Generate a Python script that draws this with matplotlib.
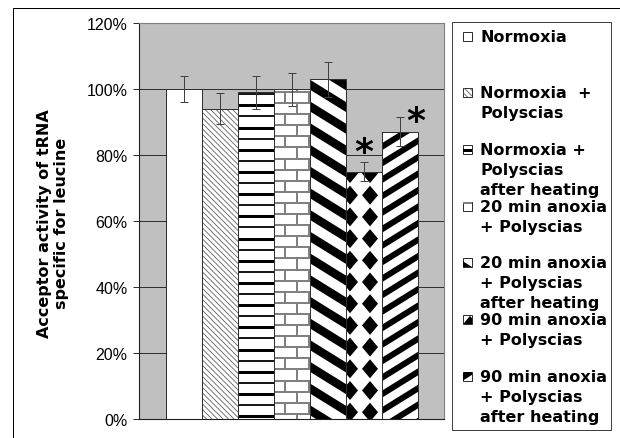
import matplotlib

matplotlib.use("Agg")

import matplotlib.pyplot as plt
import numpy as np
from matplotlib.collections import LineCollection, PolyCollection
from matplotlib.patches import Rectangle
from matplotlib.ticker import MultipleLocator, PercentFormatter
from matplotlib.transforms import IdentityTransform

W, H = 620, 439

labels = [
    "Normoxia",
    "Normoxia  +\nPolyscias",
    "Normoxia +\nPolyscias\nafter heating",
    "20 min anoxia\n+ Polyscias",
    "20 min anoxia\n+ Polyscias\nafter heating",
    "90 min anoxia\n+ Polyscias",
    "90 min anoxia\n+ Polyscias\nafter heating",
]
values = [1.00, 0.94, 0.99, 1.00, 1.03, 0.75, 0.87]
errors = [0.04, 0.047, 0.05, 0.05, 0.053, 0.03, 0.044]
significant = [False, False, False, False, False, True, True]
patterns = ["plain", "fine", "hlines", "bricks", "back", "diamonds", "fwd"]

PX = 0.72  # points per pixel at dpi 100


def diag(bb, slope, period, lw, color, phase=0.0):
    x0, y0, x1, y1 = bb
    cs = [y0 - slope * x0, y0 - slope * x1, y1 - slope * x0, y1 - slope * x1]
    k0 = int(np.floor((min(cs) - phase) / period)) - 1
    k1 = int(np.ceil((max(cs) - phase) / period)) + 1
    segs = []
    for c in phase + period * np.arange(k0, k1 + 1):
        segs.append([(x0 - 5, slope * (x0 - 5) + c), (x1 + 5, slope * (x1 + 5) + c)])
    return [LineCollection(segs, colors=color, linewidths=lw, capstyle="butt")]


def bricks(bb, color="#808080"):
    x0, y0, x1, y1 = bb
    rows = 11.1
    k0 = int(np.floor(y0 / rows)) - 1
    k1 = int(np.ceil(y1 / rows)) + 1
    hsegs, vsegs = [], []
    for k in range(k0, k1 + 1):
        yb = k * rows + 2
        hsegs.append([(x0 - 2, yb), (x1 + 2, yb)])
        start = 285 if k % 2 == 0 else 297
        xs = np.arange(start - 24 * 20, x1 + 24, 24)
        for xv in xs[xs > x0 - 2]:
            vsegs.append([(xv, yb), (xv, yb + rows)])
    return [
        LineCollection(hsegs, colors=color, linewidths=2 * PX),
        LineCollection(vsegs, colors=color, linewidths=2 * PX),
    ]


def diamonds(bb):
    x0, y0, x1, y1 = bb
    polys = []
    hx, hy = 8, 9.5
    for cx in np.arange(350 - 20 * 30, x1 + 20, 20):
        if cx < x0 - 12:
            continue
        for cy in np.arange(156 - 21.7 * 30, y1 + 22, 21.7):
            if cy < y0 - 12:
                continue
            polys.append([(cx - hx, cy), (cx, cy + hy), (cx + hx, cy), (cx, cy - hy)])
    return [PolyCollection(polys, facecolors="black", edgecolors="none")]


def make_pattern(kind, bb):
    if kind == "fine":
        return diag(bb, -1.0, 5.5, 0.8 * PX, "#5a5a5a")
    if kind == "hlines":
        return (diag(bb, 0.0, 22.2, 3 * PX, "black", phase=155)
                + diag(bb, 0.0, 22.2, 1.8 * PX, "black", phase=144))
    if kind == "bricks":
        return bricks(bb)
    if kind == "back":
        return diag(bb, -0.62, 21.7, 8.5 * PX, "black", phase=3)
    if kind == "diamonds":
        return diamonds(bb)
    if kind == "fwd":
        return diag(bb, 0.62, 16.5, 6 * PX, "black", phase=5)
    return []


fig = plt.figure(figsize=(W / 100, H / 100), dpi=100)
fig.patch.set_facecolor("white")

# outer frame of the chart
fig.add_artist(Rectangle((13, -10), W, H - 9 + 10, transform=IdentityTransform(),
                         facecolor="none", edgecolor="black", linewidth=1 * PX))

ax = fig.add_axes([139 / W, 19 / H, 305 / W, 396 / H])
ax.set_facecolor("#c0c0c0")

x = np.arange(len(values))
gap = 26.5 / 36
ax.set_xlim(-0.5 - gap, len(values) - 0.5 + gap)
ax.set_ylim(0, 1.2)

ax.yaxis.set_major_locator(MultipleLocator(0.2))
ax.yaxis.set_major_formatter(PercentFormatter(xmax=1, decimals=0))
ax.set_xticks([])
ax.set_axisbelow(True)
ax.yaxis.grid(True, color="#303030", linewidth=1 * PX)
ax.tick_params(axis="y", direction="out", length=6 * PX, width=1 * PX, color="#303030",
               labelsize=11.5, pad=4)
for lab in ax.get_yticklabels():
    lab.set_fontfamily("Liberation Sans")
for side in ["top", "right"]:
    ax.spines[side].set_color("#808080")
for side in ["left", "bottom"]:
    ax.spines[side].set_color("#202020")

bars = ax.bar(x, values, width=1.0, color="white", edgecolor="none", zorder=2)
for bar, kind in zip(bars, patterns):
    (bx0, by0), (bx1, by1) = ax.transData.transform(
        [(bar.get_x(), 0), (bar.get_x() + bar.get_width(), bar.get_height())])
    for art in make_pattern(kind, (bx0, by0, bx1, by1)):
        art.set_transform(IdentityTransform())
        art.set_zorder(3)
        ax.add_collection(art, autolim=False)
        art.set_clip_path(bar)
ax.bar(x, values, width=1.0, fill=False, edgecolor="#303030", linewidth=1 * PX, zorder=4)
ax.errorbar(x, values, yerr=errors, fmt="none", ecolor="#404040", elinewidth=1 * PX,
            capsize=3, capthick=1 * PX, zorder=5)

for xi, v, e, sig in zip(x, values, errors, significant):
    if not sig:
        continue
    if xi == 5:
        ax.text(xi, v + e + 0.03, "*", fontsize=26, fontweight="bold",
                ha="center", va="center", zorder=6)
    else:
        ax.text(xi + 0.44, v + e - 0.01, "*", fontsize=26, fontweight="bold",
                ha="center", va="center", zorder=6)

fig.text(53 / W, 1 - 223.5 / H, "Acceptor activity of tRNA\nspecific for leucine",
         rotation=90, ha="center", va="center", multialignment="center",
         fontsize=11.5, fontweight="bold", family="DejaVu Sans", linespacing=1.15)

# legend
fig.add_artist(Rectangle((452, H - 431), 159, 408, transform=IdentityTransform(),
                         facecolor="white", edgecolor="#404040", linewidth=1 * PX))
for i, (lab, kind) in enumerate(zip(labels, patterns)):
    y0 = 37 + 56.7 * i
    box = Rectangle((463, H - y0 - 4.5), 9, 9, transform=IdentityTransform(),
                    facecolor="white", edgecolor="none")
    fig.add_artist(box)
    for art in make_pattern(kind, (463, H - y0 - 4.5, 472, H - y0 + 4.5)):
        art.set_transform(IdentityTransform())
        fig.add_artist(art)
        art.set_clip_path(box)
    fig.add_artist(Rectangle((463, H - y0 - 4.5), 9, 9, transform=IdentityTransform(),
                             facecolor="none", edgecolor="#303030", linewidth=1 * PX))
    for j, line in enumerate(lab.split("\n")):
        fig.text(480 / W, 1 - (y0 + 20 * j) / H, line, ha="left", va="center",
                 fontsize=11.5, fontweight="bold", family="DejaVu Sans")

fig.savefig("out.png", dpi=100)
